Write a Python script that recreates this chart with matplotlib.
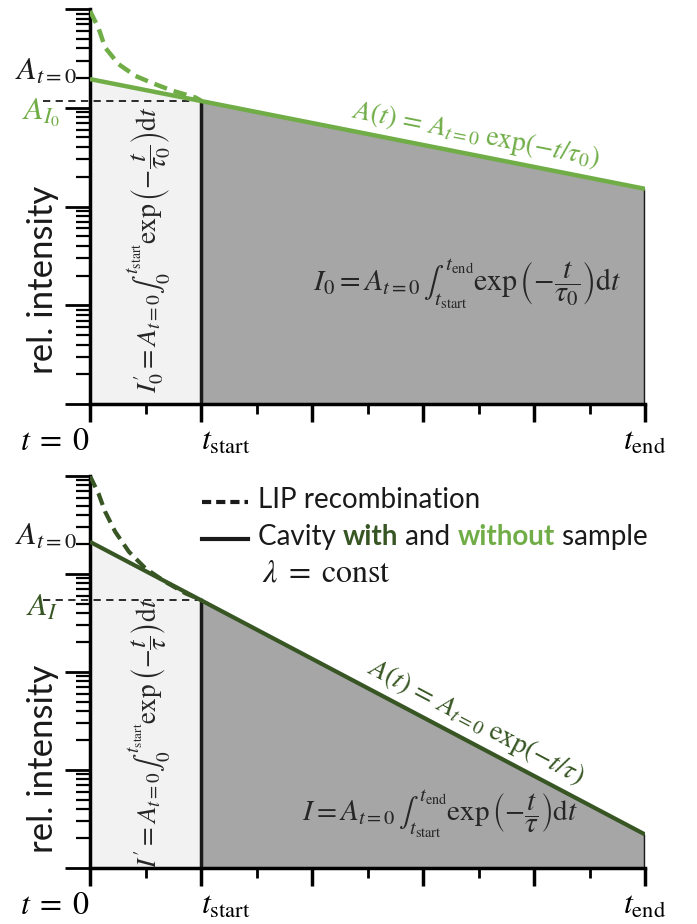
"""
Schematic of the decay signals with and without sample (log intensity vs time)
"""

import numpy as np
import matplotlib
matplotlib.use("Agg")
import matplotlib.pyplot as plt
import matplotlib.transforms as mtransforms
from matplotlib.ticker import FixedLocator, NullFormatter, LogLocator

plt.rcParams["mathtext.fontset"] = "stix"
plt.rcParams["font.family"] = ["Lato", "DejaVu Sans"]

# ---- values (time in units of t_start) ----
# top panel: cavity without sample
t_line = [0.0, 1.0, 5.0]
A_top = [1950, 1170, 151]
t_dash_top = [0.0, 0.076, 0.136, 0.258, 0.41, 0.56, 0.74, 0.95, 1.0]
A_dash_top = [9550, 6450, 4070, 2760, 2100, 1780, 1490, 1270, 1180]

# bottom panel: cavity with sample
A_bot = [2130, 540, 2.2]
t_dash_bot = [0.0, 0.076, 0.136, 0.227, 0.35, 0.5, 0.68, 0.86, 1.0]
A_dash_bot = [10000, 6650, 4330, 2700, 1690, 1140, 830, 635, 545]

tick_pos = [0, 1, 2, 3, 4, 5]
tick_labels = [r"$t\;=\;0$", r"$t_{\mathrm{start}}$", "", "", "", r"$t_{\mathrm{end}}$"]

light_green = "#70ad47"
dark_green = "#375623"
light_gray = "#f2f2f2"
dark_gray = "#a6a6a6"
text_col = "#262626"

W, H = 697, 924
fig = plt.figure(figsize=(W / 100, H / 100), dpi=100)


def px(x, y):
    # pixel position -> figure fraction
    return x / W, 1 - y / H


def make_axes(top, bottom):
    ax = fig.add_axes([90 / W, 1 - bottom / H, 555 / W, (bottom - top) / H])
    ax.set_yscale("log")
    ax.set_xlim(0, 5)
    ax.set_ylim(1, 1e4)
    for s in ["top", "right"]:
        ax.spines[s].set_visible(False)
    for s in ["left", "bottom"]:
        ax.spines[s].set_linewidth(2.5)
    ax.yaxis.set_major_locator(LogLocator(base=10, numticks=10))
    ax.yaxis.set_minor_locator(LogLocator(base=10, subs=np.arange(2, 10), numticks=10))
    ax.yaxis.set_major_formatter(NullFormatter())
    ax.yaxis.set_minor_formatter(NullFormatter())
    ax.tick_params(axis="y", which="major", length=18, width=2)
    ax.tick_params(axis="y", which="minor", length=10, width=1.6)
    ax.xaxis.set_major_locator(FixedLocator(tick_pos))
    ax.xaxis.set_minor_locator(FixedLocator([0.5, 1.5, 2.5, 3.5, 4.5]))
    labels = ax.set_xticklabels(tick_labels, fontsize=23)
    labels[0].set_ha("right")
    labels[1].set_ha("left")
    ax.tick_params(axis="x", which="major", length=13, width=2.5, pad=3)
    ax.tick_params(axis="x", which="minor", length=7, width=2)
    return ax


def draw_panel(ax, A, t_dash, A_dash, color, lw):
    # shaded integrals
    ax.fill_between(t_line[:2], A[:2], 1, color=light_gray, lw=0, zorder=1)
    ax.fill_between(t_line[1:], A[1:], 1, color=dark_gray, lw=0, zorder=1)
    ax.plot([t_line[1], t_line[1]], [1, A[1]], color="#1a1a1a", lw=2.5, zorder=2)
    ax.plot([t_line[2], t_line[2]], [1, A[2]], color="#1a1a1a", lw=2.5, zorder=2)
    # decays
    ax.plot(t_line, A, color=color, lw=lw, zorder=4, solid_capstyle="butt")
    ax.plot(t_dash, A_dash, color=color, lw=lw, ls=(0, (3, 1.6)), zorder=4)
    # dashed level at t_start
    trans = mtransforms.blended_transform_factory(ax.transAxes, ax.transData)
    ax.plot([-0.085, 0.2], [A[1], A[1]], color="#1a1a1a", lw=1.3,
            ls=(0, (4, 3)), transform=trans, clip_on=False, zorder=3)


def rotated_label(ax, t, y, text, color, i0, i1, A):
    p0 = ax.transData.transform((t_line[i0], A[i0]))
    p1 = ax.transData.transform((t_line[i1], A[i1]))
    ang = np.degrees(np.arctan2(p1[1] - p0[1], p1[0] - p0[0]))
    ax.text(t, y, text, color=color, fontsize=20, rotation=ang,
            rotation_mode="anchor", ha="center", va="center", zorder=5)


# ---------------- top panel ----------------
ax1 = make_axes(9, 404)
draw_panel(ax1, A_top, t_dash_top, A_dash_top, light_green, 3.2)
fig.text(*px(43, 280), "rel. intensity", rotation=90, fontsize=25,
         ha="center", va="center", color="#1a1a1a")
fig.text(*px(77, 71), r"$A_{t=0}$", fontsize=23, ha="right", va="center",
         color="#1a1a1a")
fig.text(*px(60, 113), r"$A_{I_0}$", fontsize=23, ha="right", va="center",
         color=light_green)
fig.text(*px(150, 250),
         r"$I_0^{\prime} = A_{t=0}\int_0^{t_{\mathrm{start}}}\exp\left(-\dfrac{t}{\tau_0}\right)\mathrm{d}t$",
         rotation=90, fontsize=20, ha="center", va="center", color=text_col)
fig.text(*px(467, 284),
         r"$I_0 = A_{t=0}\,\int_{t_{\mathrm{start}}}^{t_{\mathrm{end}}}\exp\left(-\dfrac{t}{\tau_0}\right)\mathrm{d}t$",
         fontsize=21.5, ha="center", va="center", color=text_col)
rotated_label(ax1, 3.47, 530, r"$A(t)\,=\,A_{t=0}\;\exp(-t/\tau_0)$",
              light_green, 1, 2, A_top)

# ---------------- bottom panel ----------------
ax2 = make_axes(476, 868)
draw_panel(ax2, A_bot, t_dash_bot, A_dash_bot, dark_green, 3.0)
fig.text(*px(43, 759), "rel. intensity", rotation=90, fontsize=25,
         ha="center", va="center", color="#1a1a1a")
fig.text(*px(77, 536), r"$A_{t=0}$", fontsize=23, ha="right", va="center",
         color="#1a1a1a")
fig.text(*px(58, 607), r"$A_I$", fontsize=23, ha="right", va="center",
         color=dark_green)
fig.text(*px(150, 733),
         r"$I^{\prime} = A_{t=0}\int_0^{t_{\mathrm{start}}}\exp\left(-\dfrac{t}{\tau}\right)\mathrm{d}t$",
         rotation=90, fontsize=19.5, ha="center", va="center", color=text_col)
fig.text(*px(440, 814),
         r"$I = A_{t=0}\,\int_{t_{\mathrm{start}}}^{t_{\mathrm{end}}}\exp\left(-\dfrac{t}{\tau}\right)\mathrm{d}t$",
         fontsize=21, ha="center", va="center", color=text_col)
rotated_label(ax2, 3.47, 31, r"$A(t)\,=\,A_{t=0}\;\exp(-t/\tau)$",
              dark_green, 1, 2, A_bot)

# legend-like annotation
ax2.plot([(202 - 90) / 555, (248 - 90) / 555], [(868 - 502) / 392] * 2,
         color="#1a1a1a", lw=3, ls=(0, (2.2, 1.2)), transform=ax2.transAxes,
         clip_on=False)
ax2.plot([(202 - 90) / 555, (248 - 90) / 555], [(868 - 539) / 392] * 2,
         color="#1a1a1a", lw=3, transform=ax2.transAxes, clip_on=False)
fig.text(*px(258, 500), "LIP recombination", fontsize=20, ha="left",
         va="center", color="#1a1a1a")

renderer = fig.canvas.get_renderer()
x = 258
pieces = [("Cavity ", "#1a1a1a", "normal"), ("with", dark_green, "bold"),
          (" and ", "#1a1a1a", "normal"), ("without", light_green, "bold"),
          (" sample", "#1a1a1a", "normal")]
for s, c, w in pieces:
    t = fig.text(*px(x, 537), s, fontsize=20, ha="left", va="center",
                 color=c, fontweight=w)
    x = x + t.get_window_extent(renderer).width
fig.text(*px(262, 573), r"$\lambda\;=\;\mathrm{const}$", fontsize=23,
         ha="left", va="center", color="#1a1a1a")

fig.savefig("out.png", dpi=100)
